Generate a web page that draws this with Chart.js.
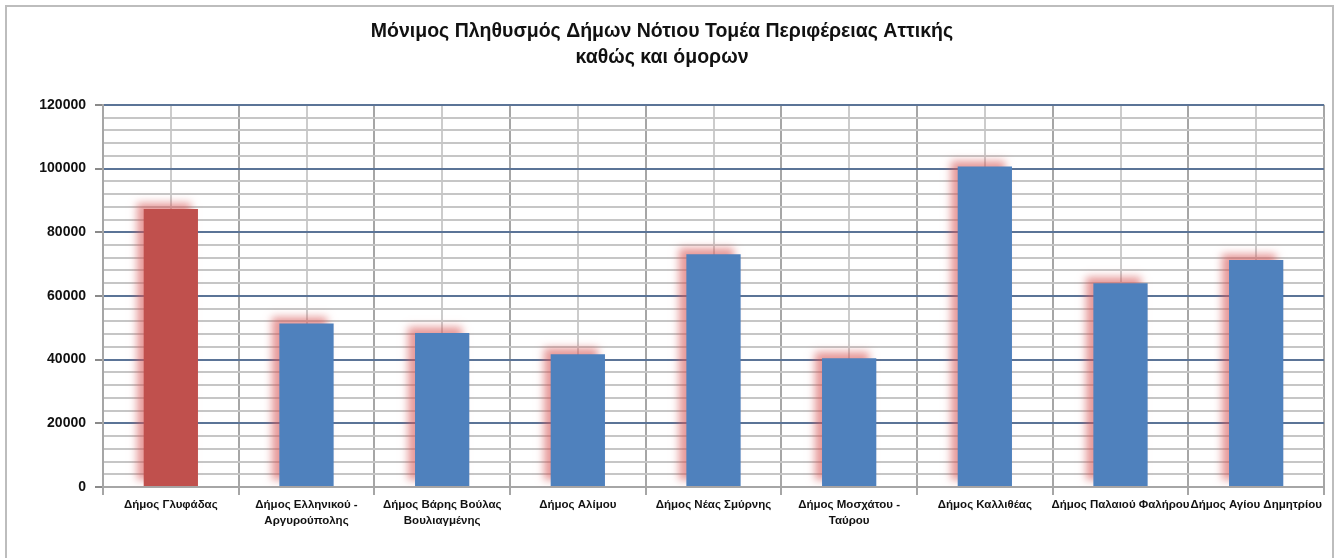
<!DOCTYPE html>
<html>
<head>
<meta charset="utf-8">
<script src="https://cdn.jsdelivr.net/npm/chart.js@4.4.1/dist/chart.umd.min.js"></script>
<style>
  html, body { margin: 0; padding: 0; background: #fff; overflow: hidden; }
  #wrap { position: relative; width: 1334px; height: 558px; }
  #frame { position: absolute; left: 5px; top: 5px; width: 1329px; height: 600px;
           border: 2px solid #bdbdbd; box-sizing: border-box; pointer-events: none; }
  canvas { position: absolute; left: 0; top: 0; }
</style>
</head>
<body>
<div id="wrap">
  <canvas id="c" width="1334" height="558"></canvas>
  <div id="frame"></div>
</div>
<script>
const categories = [
  "Δήμος Γλυφάδας",
  ["Δήμος Ελληνικού -", "Αργυρούπολης"],
  ["Δήμος Βάρης Βούλας", "Βουλιαγμένης"],
  "Δήμος Αλίμου",
  "Δήμος Νέας Σμύρνης",
  ["Δήμος Μοσχάτου -", "Ταύρου"],
  "Δήμος Καλλιθέας",
  "Δήμος Παλαιού Φαλήρου",
  "Δήμος Αγίου Δημητρίου"
];
const population = [87305, 51356, 48399, 41720, 73076, 40413, 100641, 64021, 71294];
const barColors = ["#c0504d", "#4f81bd", "#4f81bd", "#4f81bd", "#4f81bd", "#4f81bd", "#4f81bd", "#4f81bd", "#4f81bd"];
const yTickLabels = [0, 20000, 40000, 60000, 80000, 100000, 120000];
const titleLines = ["Μόνιμος Πληθυσμός Δήμων Νότιου Τομέα Περιφέρειας Αττικής", "καθώς και όμορων"];

const shadowPlugin = {
  id: 'barShadow',
  beforeDatasetsDraw(chart) {
    const ctx = chart.ctx;
    ctx.save();
    ctx.shadowColor = 'rgba(215, 85, 85, 0.6)';
    ctx.shadowBlur = 8;
    ctx.shadowOffsetX = -7;
    ctx.shadowOffsetY = -6;
  },
  afterDatasetsDraw(chart) {
    chart.ctx.restore();
  }
};

const sans = "'Liberation Sans', Arial, sans-serif";

new Chart(document.getElementById('c'), {
  type: 'bar',
  data: {
    labels: categories,
    datasets: [{
      data: population,
      backgroundColor: barColors,
      borderWidth: 0,
      barPercentage: 0.4,
      categoryPercentage: 1.0
    }]
  },
  options: {
    responsive: false,
    animation: false,
    devicePixelRatio: 1,
    layout: { padding: { left: 0, right: 10, top: 0, bottom: 0 } },
    plugins: {
      legend: { display: false },
      tooltip: { enabled: false },
      title: {
        display: true,
        text: titleLines,
        color: '#111',
        font: { family: sans, size: 19.5, weight: 'bold', lineHeight: 1.33 },
        padding: { top: 19, bottom: 34 }
      }
    },
    scales: {
      x: {
        position: 'bottom',
        grid: {
          offset: true,
          color: '#a6a6a6',
          lineWidth: 2,
          tickLength: 8,
          tickColor: '#a6a6a6'
        },
        border: { display: true, color: '#a6a6a6', width: 2 },
        ticks: {
          color: '#111',
          font: { family: sans, size: 11.5, weight: 'bold', lineHeight: 1.4 },
          padding: 2,
          maxRotation: 0,
          minRotation: 0,
          autoSkip: false
        },
        afterFit(scale) { scale.height = 71; }
      },
      x2: {
        type: 'category',
        position: 'bottom',
        labels: categories,
        offset: true,
        grid: { offset: false, color: '#cccccc', lineWidth: 2, drawTicks: false },
        border: { display: false },
        ticks: { display: false },
        afterFit(scale) { scale.height = 0; }
      },
      y: {
        min: 0,
        max: 120000,
        grid: {
          color: ctx => (ctx.tick && ctx.tick.value % 20000 === 0) ? '#5b7497' : '#c6c6c6',
          lineWidth: 2,
          tickLength: 8,
          tickColor: ctx => (ctx.tick && ctx.tick.value % 20000 === 0) ? '#8a8a8a' : 'rgba(0,0,0,0)'
        },
        border: { display: true, color: '#a6a6a6', width: 2 },
        ticks: {
          stepSize: 4000,
          autoSkip: false,
          color: '#111',
          padding: 9,
          font: { family: sans, size: 14, weight: 'bold' },
          callback: v => yTickLabels.includes(v) ? String(v) : ''
        },
        afterFit(scale) { scale.width = 103; }
      }
    }
  },
  plugins: [shadowPlugin]
});
</script>
</body>
</html>
